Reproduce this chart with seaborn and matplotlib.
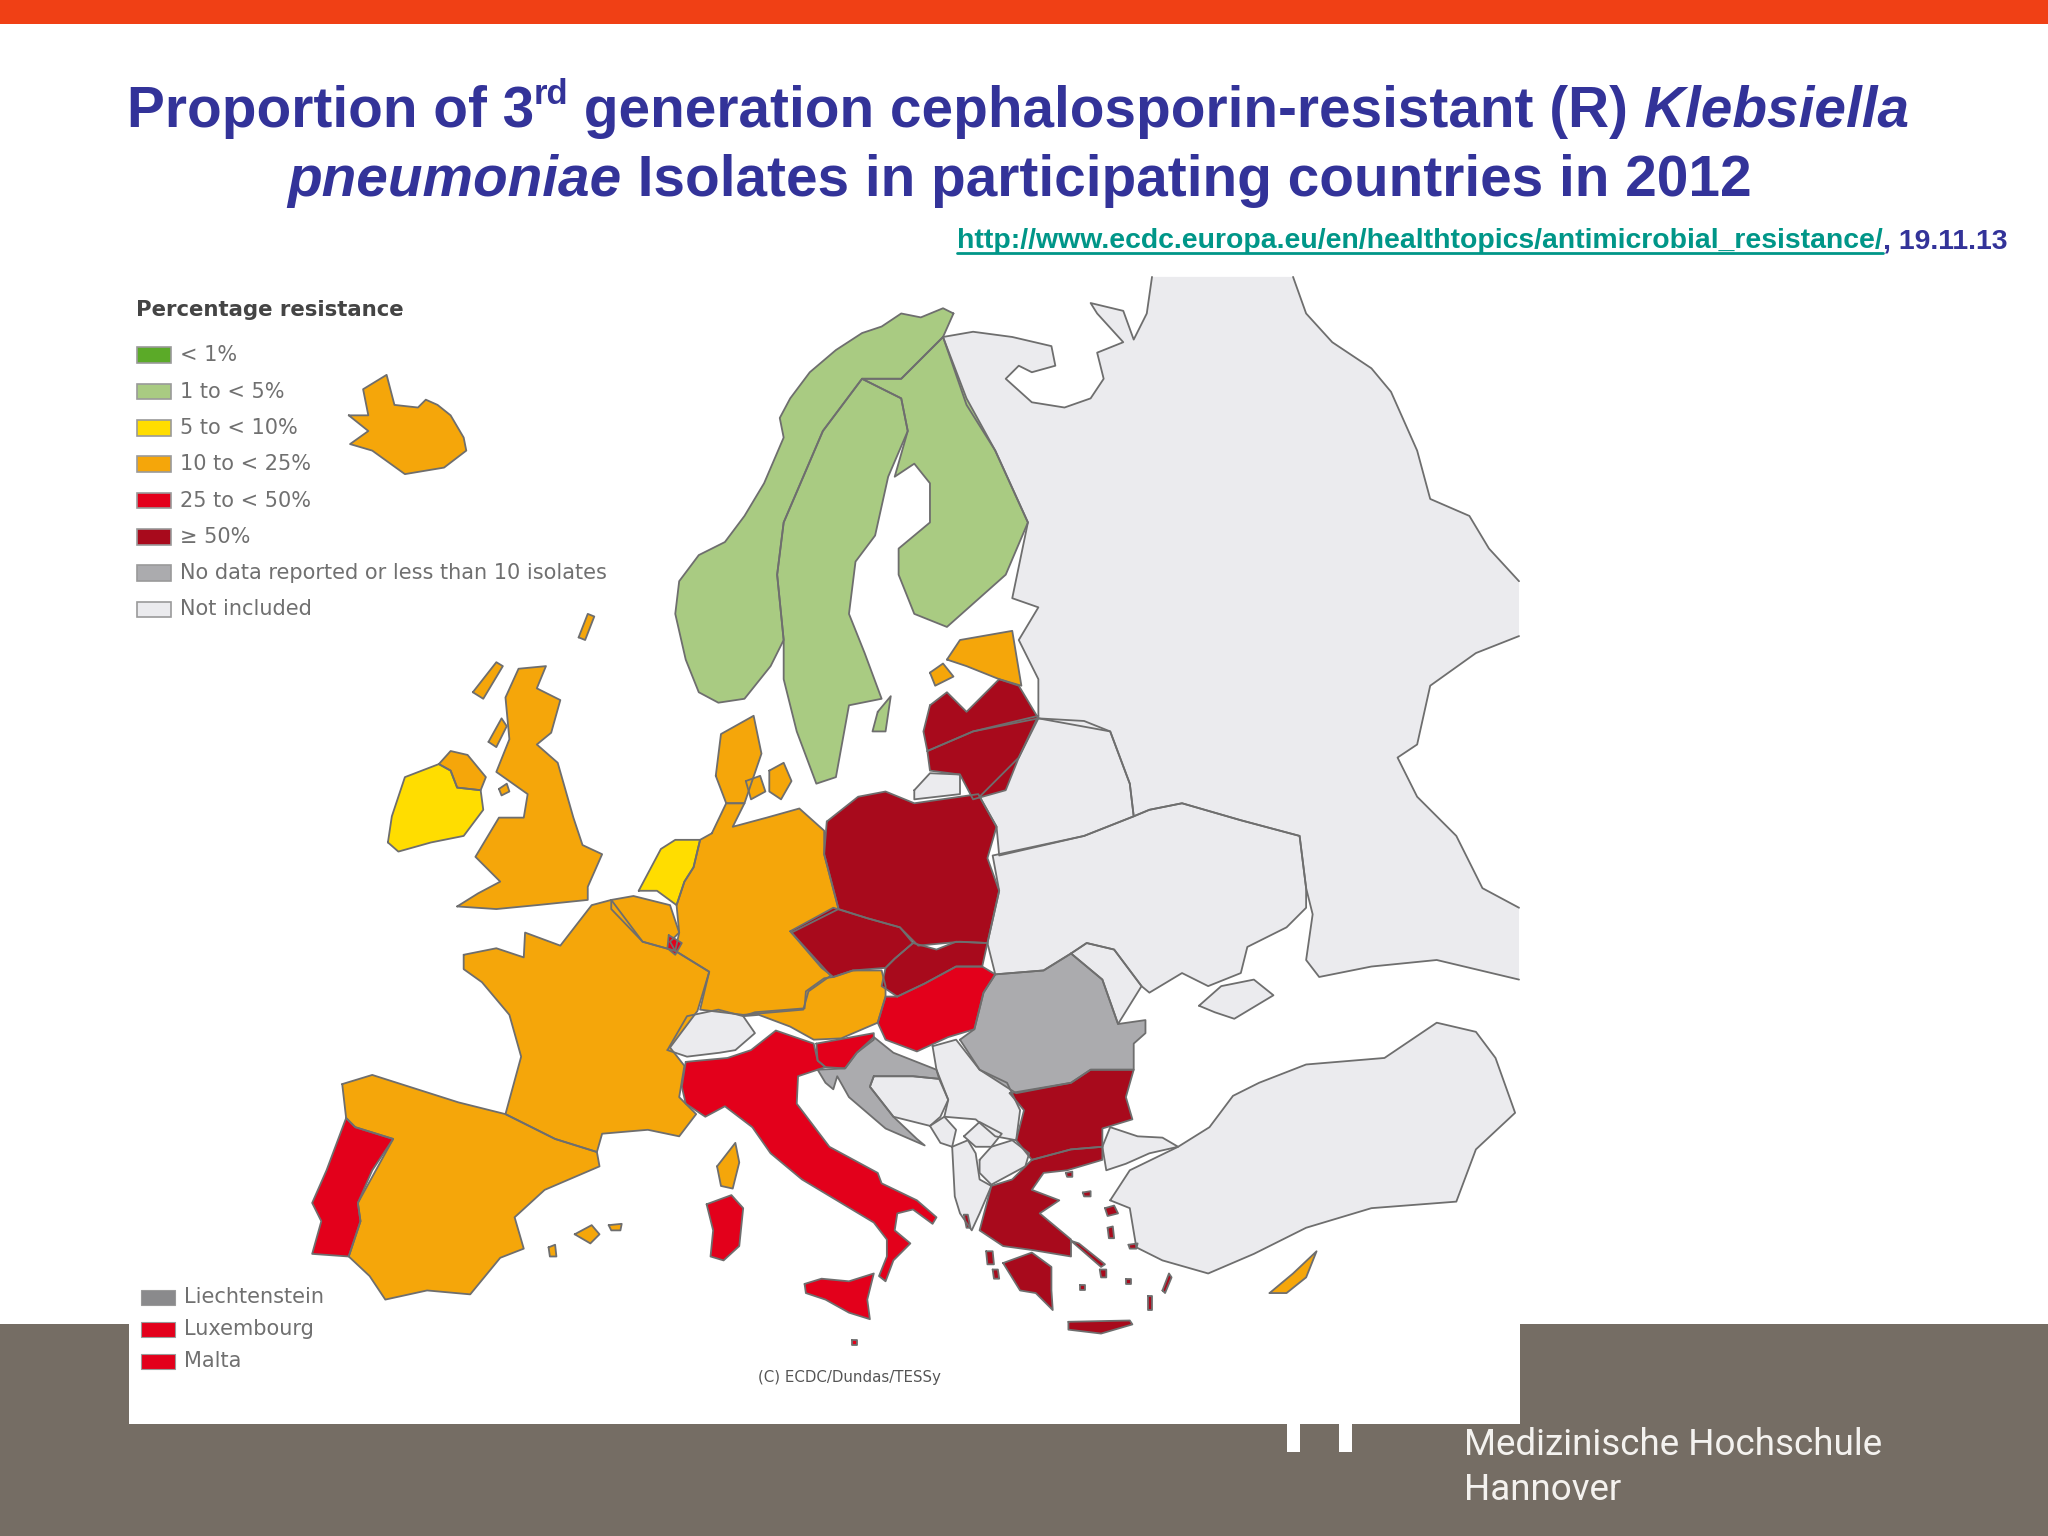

# Resistenzkarte: EARS-Net folie, Klebsiella pneumoniae 2012
import matplotlib
matplotlib.use('Agg')
import matplotlib.pyplot as plt
import pandas as pd
import seaborn as sns
from matplotlib.patches import Rectangle

# legend
legend_labels = ['< 1%', '1 to < 5%', '5 to < 10%', '10 to < 25%', '25 to < 50%', '≥ 50%',
                 'No data reported or less than 10 isolates', 'Not included']
legend_colors = ['#5BAA28', '#A9CB82', '#FFDD00', '#F5A60A', '#E3001B', '#A80A1C', '#ABABAE', '#EBEBEE']
small_labels = ['Liechtenstein', 'Luxembourg', 'Malta']
small_colors = ['#8A8A8C', '#E3001B', '#E3001B']

# country outlines, in picture coordinates
russia_a = [(722,258),(745,254),(775,258),(805,265),(808,280),(790,285),(780,280),(770,290),(790,308),(815,312),(835,305),(845,290),(840,270),(860,262),(840,240),(835,232),(860,238),(868,260),(878,240),(882,212)]
russia_b = [(990,212),(1000,240),(1020,262),(1050,282),(1065,300),(1085,345),(1095,382),(1125,395),(1140,420),(1163,445)]
russia_c = [(1163,487),(1130,500),(1095,525),(1085,570),(1070,580),(1085,610),(1115,640),(1135,680),(1163,695)]
russia_d = [(1163,750),(1100,735),(1050,740),(1010,748),(1000,735),(1005,700),(1000,680),(995,640),(950,628),(905,615),(880,620),(868,625),(865,600),(850,560),(795,550),(795,520),(780,490),(795,465),(775,458),(787,400),(762,345),(740,310),(722,258)]
belarus = [(750,610),(780,580),(795,550),(830,552),(850,560),(865,600),(868,625),(830,640),(765,655),(763,633)]
ukraine = [(756,722),(765,682),(760,655),(830,640),(868,625),(880,620),(905,615),(950,628),(995,640),(1000,680),(1000,695),(985,710),(955,725),(950,745),(925,755),(905,745),(880,760),(874,755),(853,727),(832,722),(820,730),(799,743),(762,746)]
crimea = [(918,770),(935,755),(960,750),(975,762),(945,780),(930,775)]
moldova = [(820,730),(832,722),(853,727),(874,755),(856,784),(844,750)]
kaliningrad = [(700,605),(712,592),(735,593),(735,608),(700,612)]
switzerland = [(511,804),(526,778),(550,773),(569,778),(578,791),(563,804),(551,806),(526,809)]
bosnia = [(669,824),(699,824),(719,826),(726,842),(720,855),(712,862),(684,855),(666,832)]
serbia = [(714,801),(732,796),(750,819),(771,829),(781,850),(778,873),(762,870),(747,857),(723,855),(726,842),(717,819)]
albania = [(729,878),(741,873),(747,883),(750,903),(759,908),(750,929),(744,942),(735,929),(731,916)]
montenegro = [(712,862),(723,855),(732,865),(729,878),(720,875)]
kosovo = [(738,870),(750,859),(767,868),(759,878),(747,878)]
macedonia = [(750,888),(759,878),(775,873),(788,883),(785,893),(759,907),(750,898)]
turkey_eu = [(844,878),(850,863),(871,870),(890,871),(902,878),(880,883),(862,891),(847,896)]
turkey = [(850,919),(865,896),(902,878),(926,863),(944,839),(964,829),(1000,815),(1060,810),(1100,783),(1130,790),(1145,810),(1160,852),(1130,880),(1115,920),(1050,925),(1000,940),(960,960),(925,975),(890,965),(870,955),(865,925)]

norway = [(730,240),(722,236),(705,243),(690,240),(675,250),(660,255),(640,268),(620,285),(605,305),(597,320),(600,335),(585,370),(570,395),(555,415),(535,425),(520,445),(517,470),(525,505),(535,530),(550,538),(570,535),(590,510),(600,490),(595,440),(600,400),(630,330),(660,290),(690,290),(722,258)]
sweden = [(660,290),(690,305),(695,330),(680,365),(670,410),(655,430),(650,470),(662,500),(675,535),(650,540),(640,595),(625,600),(610,560),(600,520),(600,490),(595,440),(600,400),(630,330)]
finland = [(722,258),(740,305),(762,345),(787,400),(770,440),(725,480),(700,470),(688,440),(688,420),(712,400),(712,370),(700,355),(685,365),(695,330),(690,305),(660,290),(690,290)]
gotland = [(672,545),(682,533),(678,560),(668,560)]

iceland = [(267,318),(282,318),(278,298),(296,287),(302,310),(320,312),(326,306),(335,310),(345,318),(355,335),(357,345),(340,358),(310,363),(285,345),(268,340),(282,330)]
n_ireland = [(336,585),(345,575),(358,578),(372,595),(368,605),(350,603),(345,590)]
britain = [(350,694),(366,684),(383,675),(364,656),(382,626),(401,626),(404,608),(380,591),(390,566),(387,534),(397,512),(418,510),(411,527),(429,536),(422,561),(411,570),(427,584),(439,626),(446,647),(461,654),(450,679),(450,689),(411,693),(380,696)]
france = [(355,731),(380,726),(401,733),(402,714),(429,724),(453,693),(468,689),(492,721),(517,728),(543,744),(534,774),(513,802),(524,816),(520,840),(533,853),(520,870),(496,865),(461,868),(457,882),(425,872),(387,853),(399,809),(390,777),(369,752),(355,742)]
belgium = [(468,689),(485,686),(513,693),(520,714),(513,721),(517,728),(492,721),(468,696)]
germany = [(545,638),(556,615),(570,615),(561,633),(587,626),(612,619),(631,636),(631,654),(642,696),(606,714),(636,747),(619,759),(615,773),(569,777),(536,773),(543,744),(517,728),(520,714),(518,693),(524,675),(531,664),(536,643)]
jutland = [(548,594),(552,562),(577,548),(583,577),(570,615),(556,615)]
zealand = [(589,590),(600,584),(606,598),(598,612),(589,606)]
funen = [(571,598),(582,594),(586,606),(575,612)]
austria = [(638,748),(653,743),(675,743),(678,755),(678,763),(672,783),(644,795),(623,796),(605,786),(581,777),(569,778),(578,775),(616,772),(617,759),(631,749)]
spain = [(262,830),(285,823),(351,844),(387,853),(425,872),(457,882),(459,893),(417,911),(394,932),(401,956),(383,963),(360,991),(327,988),(295,995),(283,977),(267,962),(276,935),(274,921),(301,872),(272,863),(265,856)]
corsica = [(549,893),(563,875),(566,890),(561,910),(552,908)]
mallorca = [(440,945),(453,938),(459,945),(452,952)]
menorca = [(466,938),(476,937),(475,942),(468,942)]
ibiza = [(420,955),(425,953),(426,962),(421,962)]
estonia = [(725,505),(735,490),(775,483),(782,525),(765,520),(740,510)]
saaremaa = [(712,515),(722,508),(730,518),(716,525)]
cyprus = [(972,990),(990,975),(1008,958),(1000,978),(985,990)]
hebrides = [(362,530),(380,507),(385,510),(370,535)]
skye = [(374,568),(384,550),(388,556),(380,572)]
shetland = [(443,488),(450,470),(455,472),(448,490)]
isle_of_man = [(382,604),(388,600),(390,606),(384,609)]

ireland = [(297,645),(300,625),(310,595),(336,585),(345,590),(350,603),(368,605),(370,620),(355,640),(330,645),(305,652)]
netherlands = [(489,682),(506,650),(517,643),(536,643),(531,664),(524,675),(518,693),(503,682)]

portugal = [(265,856),(272,863),(301,872),(285,896),(274,921),(276,935),(267,962),(239,960),(246,935),(239,921),(250,896)]
italy = [(525,813),(557,810),(575,804),(594,789),(623,799),(626,812),(632,817),(611,824),(610,845),(635,878),(672,898),(675,906),(702,919),(717,932),(714,937),(699,926),(687,929),(685,942),(697,952),(690,959),(684,965),(678,981),(673,977),(679,962),(679,949),(669,936),(644,921),(614,903),(590,883),(576,863),(555,847),(540,855),(525,845),(522,832)]
sicily = [(616,983),(629,979),(650,981),(669,975),(664,995),(666,1010),(650,1005),(632,995),(617,990)]
sardinia = [(541,922),(560,915),(569,925),(566,954),(554,965),(544,962),(546,942)]
slovenia = [(625,799),(669,791),(669,796),(656,806),(647,818),(632,817),(626,812)]
hungary = [(687,763),(708,753),(732,740),(752,740),(762,746),(753,760),(746,788),(726,794),(702,805),(678,796),(672,783),(678,763)]
luxembourg = [(512,716),(522,722),(517,731),(511,726)]
malta = [(652,1026),(656,1026),(656,1030),(652,1030)]

poland = [(633,629),(657,610),(678,606),(700,615),(749,608),(763,633),(756,657),(765,682),(756,722),(735,721),(703,724),(689,710),(664,703),(642,696),(631,654)]
czechia = [(605,713),(638,695),(664,703),(689,710),(699,722),(685,734),(678,741),(653,743),(638,748),(629,741)]
slovakia = [(699,722),(717,727),(732,721),(756,722),(752,740),(732,740),(708,753),(687,763),(675,755),(678,741),(685,734)]
lithuania = [(710,575),(745,560),(795,548),(780,580),(770,605),(745,612),(735,593),(712,590)]
latvia = [(712,540),(725,530),(740,545),(765,520),(780,525),(795,550),(745,560),(710,575),(707,560)]
bulgaria = [(773,837),(820,829),(835,819),(868,819),(862,840),(867,857),(844,864),(844,878),(820,880),(790,888),(778,873),(784,850)]
greece = [(790,888),(820,880),(844,878),(844,888),(817,896),(799,898),(790,911),(811,919),(796,929),(820,949),(820,962),(790,957),(768,954),(750,942),(759,908),(775,903)]
peloponnese = [(768,967),(790,959),(805,970),(805,988),(806,1003),(793,990),(781,988)]
crete = [(818,1012),(865,1011),(867,1014),(843,1021),(818,1018)]
lesbos = [(846,925),(853,923),(856,929),(848,931)]
chios = [(848,940),(852,939),(853,948),(849,948)]
samos = [(864,953),(871,952),(870,956),(865,956)]
rhodes = [(890,988),(895,975),(897,978),(892,990)]
lemnos = [(829,913),(835,912),(835,916),(830,916)]
thasos = [(816,898),(821,897),(821,901),(817,901)]
corfu = [(738,930),(741,930),(743,940),(740,940)]
kefalonia = [(755,958),(760,958),(761,968),(756,968)]
zakynthos = [(760,972),(764,972),(765,979),(761,979)]
evia = [(820,950),(826,952),(846,968),(843,970)]
naxos = [(842,972),(847,972),(847,978),(843,978)]
milos = [(827,984),(831,984),(831,988),(827,988)]
kos = [(862,979),(866,979),(866,983),(862,983)]
karpathos = [(879,992),(882,992),(882,1003),(879,1003)]

romania = [(735,796),(746,788),(753,760),(762,746),(799,743),(820,730),(844,750),(856,784),(877,781),(877,791),(868,799),(868,819),(835,819),(820,829),(778,837),(750,819)]
croatia = [(626,819),(647,818),(656,806),(669,794),(684,806),(717,819),(719,826),(699,824),(669,824),(666,832),(684,855),(702,872),(708,877),(678,864),(650,840),(641,824),(638,834),(632,829)]

not_included = [belarus, ukraine, crimea, moldova, kaliningrad, switzerland, bosnia, serbia, albania,
                montenegro, kosovo, macedonia, turkey_eu, turkey]
low_green = [norway, sweden, finland, gotland]
orange = [iceland, n_ireland, britain, france, belgium, germany, jutland, zealand, funen, austria,
          spain, corsica, mallorca, menorca, ibiza, estonia, saaremaa, cyprus, hebrides, skye, shetland,
          isle_of_man]
yellow = [ireland, netherlands]
red = [portugal, italy, sicily, sardinia, slovenia, hungary, luxembourg, malta]
dark = [poland, czechia, slovakia, lithuania, latvia, bulgaria, greece, peloponnese, crete, lesbos, chios,
        samos, rhodes, lemnos, thasos, corfu, kefalonia, zakynthos, evia, naxos, milos, kos, karpathos]
grey = [romania, croatia]

navy = '#333399'
band = '#756D64'
edge = '#6E6E6E'

sns.set_theme(style='white')
fig = plt.figure(figsize=(20.48, 15.36), dpi=100, facecolor='white')
ax = fig.add_axes([0, 0, 1, 1])
ax.set_xlim(0, 1568)
ax.set_ylim(1176, 0)
ax.set_axis_off()


def outline(points, closed=True):
    pts = points + points[:1] if closed else points
    d = pd.DataFrame(pts, columns=['x', 'y'])
    sns.lineplot(data=d, x='x', y='y', sort=False, estimator=None, color=edge, lw=1.3,
                 legend=False, ax=ax, zorder=4)


def chain(x, y, pieces):
    # stuecke nebeneinander setzen, breite vom renderer
    r = fig.canvas.get_renderer()
    for s, kw in pieces:
        kw = dict(kw)
        dy = kw.pop('dy', 0)
        t = ax.text(x, y + dy, s, va='baseline', ha='left', family='Liberation Sans', **kw)
        x += t.get_window_extent(r).width * 1568 / 2048
    return x


# background, slide furniture
ax.add_patch(Rectangle((0, 0), 1568, 18, color='#F04015', lw=0, zorder=1))
ax.add_patch(Rectangle((0, 1014), 1568, 162, color=band, lw=0, zorder=1))
ax.add_patch(Rectangle((985, 1085), 10, 27, color='white', lw=0, zorder=1))
ax.add_patch(Rectangle((1025, 1085), 10, 27, color='white', lw=0, zorder=1))
ax.add_patch(Rectangle((99, 212), 1065, 878, color='white', lw=0, zorder=2))

# map
russia = russia_a + russia_b + russia_c + russia_d
ax.fill(*zip(*russia), color=legend_colors[7], lw=0, zorder=3)
for arc in [russia_a, russia_b, russia_c, russia_d]:
    outline(arc, closed=False)
groups = [(not_included, legend_colors[7]), (low_green, legend_colors[1]), (orange, legend_colors[3]),
          (yellow, legend_colors[2]), (red, legend_colors[4]), (dark, legend_colors[5]), (grey, legend_colors[6])]
for shapes, col in groups:
    for pts in shapes:
        ax.fill(*zip(*pts), color=col, lw=0, zorder=3)
        outline(pts)

# legend
ax.text(104, 237, 'Percentage resistance', fontsize=15.3, fontweight='bold', color='#444444',
        va='center', ha='left', family='DejaVu Sans', zorder=5)
for i, (lab, col) in enumerate(zip(legend_labels, legend_colors)):
    y = 272 + i * 27.8
    ax.add_patch(Rectangle((105, y - 6), 26, 12, facecolor=col, edgecolor='#9A9A9A', lw=1.2, zorder=5))
    ax.text(138, y, lab, fontsize=15, color='#707070', va='center', ha='left', family='DejaVu Sans', zorder=5)
for i, (lab, col) in enumerate(zip(small_labels, small_colors)):
    y = 993 + i * 24.5
    ax.add_patch(Rectangle((108, y - 5), 26, 11, facecolor=col, edgecolor='#9A9A9A', lw=0.8, zorder=5))
    ax.text(141, y, lab, fontsize=15, color='#707070', va='center', ha='left', family='DejaVu Sans', zorder=5)
ax.text(650, 1055, '(C) ECDC/Dundas/TESSy', fontsize=10.8, color='#555555', va='center', ha='center',
        family='DejaVu Sans', zorder=5)

# title
tkw = dict(fontsize=40.9, fontweight='bold', color=navy, zorder=6)
chain(97, 97, [('Proportion of 3', tkw),
               ('rd', dict(tkw, fontsize=25, dy=-17)),
               (' generation cephalosporin-resistant (R) ', tkw),
               ('Klebsiella', dict(tkw, style='italic'))])
chain(220, 150, [('pneumoniae', dict(tkw, style='italic')),
                 (' Isolates in participating countries in 2012', tkw)])

# source line
x_end = chain(733, 190, [('http://www.ecdc.europa.eu/en/healthtopics/antimicrobial_resistance/',
                          dict(fontsize=20.4, fontweight='bold', color='#009688', zorder=6))])
ax.plot([733, x_end], [193.5, 193.5], color='#009688', lw=2, zorder=6)
chain(x_end, 190, [(', 19.11.13', dict(fontsize=20.4, fontweight='bold', color=navy, zorder=6))])

# logo text
ax.text(1121, 1106, 'Medizinische Hochschule', fontsize=26.5, color='#F4F2EF', va='center', ha='left',
        family='Roboto', zorder=6)
ax.text(1121, 1141, 'Hannover', fontsize=26.5, color='#F4F2EF', va='center', ha='left',
        family='Roboto', zorder=6)

ax.set_xlim(0, 1568)
ax.set_ylim(1176, 0)
ax.set_axis_off()
fig.savefig('out.png', dpi=100)
